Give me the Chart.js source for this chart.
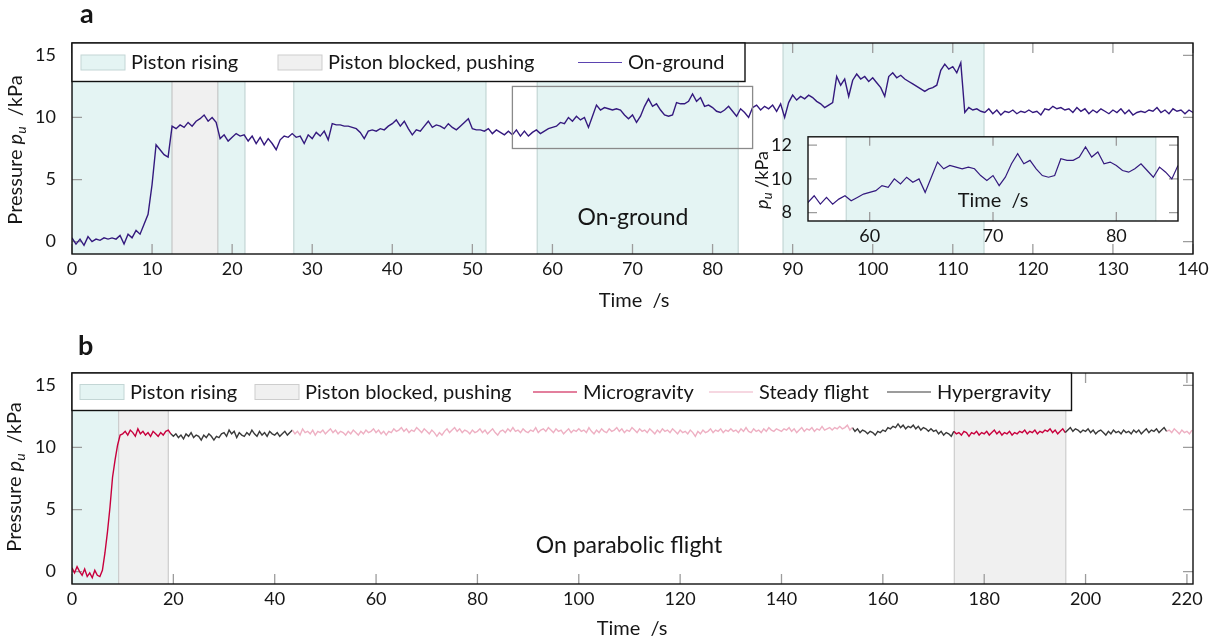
<!DOCTYPE html>
<html>
<head>
<meta charset="utf-8">
<script src="https://cdn.jsdelivr.net/npm/chart.js@4.4.1/dist/chart.umd.min.js"></script>
<style>
html, body { margin: 0; padding: 0; background: #fff; }
#wrap { position: relative; width: 1225px; height: 644px; overflow: hidden; }
canvas { position: absolute; }
</style>
</head>
<body>
<div id="wrap">
  <canvas id="chartA" width="1225" height="320" style="left:0;top:0"></canvas>
  <canvas id="chartB" width="1225" height="324" style="left:0;top:320px"></canvas>
  <canvas id="inset" width="450" height="132" style="left:740px;top:118px"></canvas>
</div>
<script>
// ---- panel a : on-ground, pressure sampled every 0.5 s from 0 to 140 s
var stepA = 0.5;
var pressureA = [
  0.3,-0.2,0.2,-0.3,0.4,0.0,0.2,0.1,0.3,0.2,
  0.3,0.2,0.5,-0.2,0.6,0.3,0.9,0.6,1.4,2.2,
  4.6,7.8,7.4,7.0,6.8,9.3,9.1,9.4,9.2,9.6,
  9.3,9.7,9.9,10.2,9.7,10.0,9.6,8.3,8.6,8.1,
  8.4,8.7,8.5,8.6,8.1,8.5,7.9,8.4,7.8,8.3,
  7.9,7.4,8.2,8.5,8.4,8.7,8.4,8.5,7.9,8.6,
  8.3,8.8,8.5,8.9,8.2,9.5,9.4,9.4,9.3,9.3,
  9.2,9.1,8.8,8.3,8.9,9.0,8.9,9.1,9.0,9.3,
  9.5,9.8,9.3,9.7,9.1,8.6,9.0,8.9,9.3,9.7,
  9.2,9.4,9.3,9.1,9.5,9.2,9.0,9.3,9.6,9.9,
  9.1,9.0,9.0,8.9,9.1,8.7,9.0,8.8,8.6,8.9,
  8.6,9.0,8.5,8.9,8.5,8.8,9.0,8.7,8.9,9.1,
  9.2,9.3,9.6,9.5,10.0,9.7,10.1,9.8,10.0,9.2,
  10.1,11.0,10.6,10.8,10.7,10.6,10.7,10.6,10.2,9.9,
  10.2,9.6,10.1,10.9,11.5,10.9,11.1,10.6,10.2,10.1,
  10.2,11.2,11.1,11.1,11.3,11.9,11.3,11.6,10.9,11.0,
  10.8,10.5,10.4,10.6,10.9,10.5,10.1,10.7,10.4,10.0,
  10.8,11.0,10.6,10.9,10.7,11.0,10.5,11.1,10.0,11.2,
  11.8,11.4,11.7,11.5,11.8,11.6,11.3,11.1,10.8,11.0,
  11.2,13.3,12.6,13.1,11.7,13.0,13.5,13.1,13.3,12.9,
  13.2,12.8,12.4,11.7,13.3,13.6,13.2,13.4,13.1,12.9,
  12.7,12.5,12.3,12.1,12.3,12.4,12.6,13.8,14.3,13.9,
  14.1,13.6,14.4,10.4,10.8,10.6,10.7,10.5,10.4,10.7,
  10.3,10.6,10.2,10.5,10.4,10.6,10.3,10.5,10.4,10.6,
  10.4,10.5,10.2,10.7,10.6,10.9,10.7,10.8,10.6,10.7,
  10.4,10.8,10.5,10.7,10.3,10.6,10.4,10.7,10.5,10.3,
  10.6,10.4,10.7,10.3,10.6,10.2,10.4,10.5,10.4,10.6,
  10.5,10.8,10.4,10.6,10.3,10.7,10.5,10.6,10.3,10.6,
  10.4
];
var risingA = [[0, 12.5], [18.2, 21.6], [27.7, 51.7], [58.1, 83.2], [88.8, 113.9]];
var blockedA = [[12.5, 18.2]];
var xTicksA = [0, 10, 20, 30, 40, 50, 60, 70, 80, 90, 100, 110, 120, 130, 140];
var yTicksA = [0, 5, 10, 15];
// zoomed window shown in the inset
var zoomX = [55, 85];
var zoomY = [7.5, 12.5];
var xTicksInset = [60, 70, 80];
var yTicksInset = [8, 10, 12];

// ---- panel b : parabolic flight, pressure sampled every 0.5 s from 0 to 221 s
var stepB = 0.5;
var pressureB = [
  0.3,-0.1,0.4,0.0,-0.3,0.2,-0.4,-0.1,-0.5,0.1,-0.3,-0.4,0.1,1.5,3.2,5.2,7.6,9.0,10.2,11.0,
  11.1,11.3,11.0,11.4,11.2,10.9,11.5,11.1,11.3,11.0,11.2,10.9,11.3,11.1,10.9,11.2,11.0,11.3,11.4,11.1,
  10.9,11.1,10.8,11.0,10.7,11.1,10.9,11.2,10.8,11.0,10.9,10.6,11.0,10.8,11.1,10.9,10.6,10.9,10.8,11.1,
  11.2,10.9,11.4,11.1,11.3,10.8,11.2,11.0,10.9,11.2,11.0,11.4,11.1,10.9,11.3,11.0,11.2,10.9,11.3,11.1,
  11.0,11.2,10.9,11.1,11.3,11.0,11.2,11.4,11.1,11.3,11.0,11.5,11.2,11.3,11.1,11.4,11.0,11.3,11.2,11.4,
  11.1,11.3,11.5,11.2,11.4,11.1,11.3,11.2,11.0,11.3,11.1,11.4,11.2,11.0,11.3,11.1,11.4,11.2,11.3,11.5,
  11.2,11.4,11.1,11.3,11.0,11.3,11.2,11.5,11.3,11.4,11.6,11.3,11.5,11.2,11.4,11.3,11.6,11.4,11.2,11.5,
  11.3,11.1,11.4,11.2,10.9,11.2,11.0,11.3,11.5,11.2,11.4,11.6,11.3,11.5,11.2,11.4,11.3,11.1,11.4,11.2,
  11.3,11.5,11.2,11.4,11.1,11.3,11.5,11.2,11.0,11.3,11.4,11.2,11.5,11.3,11.6,11.3,11.4,11.2,11.5,11.3,
  11.2,11.4,11.3,11.6,11.2,11.4,11.5,11.3,11.6,11.4,11.2,11.5,11.3,11.4,11.1,11.3,11.5,11.2,11.4,11.3,
  11.5,11.3,11.4,11.2,11.6,11.3,11.1,11.4,11.2,11.5,11.3,11.2,11.5,11.3,11.4,11.6,11.3,11.5,11.2,11.4,
  11.3,11.6,11.4,11.2,11.5,11.3,11.4,11.2,11.5,11.3,11.1,11.4,11.2,11.5,11.3,11.4,11.2,11.5,11.3,11.1,
  11.4,11.2,11.3,11.1,11.4,11.2,10.9,11.3,11.1,11.4,11.2,11.3,11.5,11.2,11.4,11.3,11.5,11.2,11.4,11.3,
  11.5,11.3,11.4,11.2,11.5,11.3,11.6,11.3,11.2,11.5,11.3,11.4,11.2,11.5,11.3,11.6,11.4,11.3,11.5,11.4,
  11.3,11.5,11.4,11.6,11.3,11.5,11.2,11.4,11.6,11.3,11.5,11.4,11.6,11.3,11.5,11.4,11.7,11.4,11.5,11.6,
  11.4,11.6,11.5,11.7,11.5,11.6,11.8,11.4,11.6,11.3,11.5,11.2,11.4,11.3,11.1,11.3,11.2,11.0,11.3,11.2,
  11.4,11.3,11.6,11.5,11.7,11.6,11.9,11.6,11.8,11.5,11.7,11.6,11.8,11.5,11.7,11.4,11.6,11.5,11.3,11.5,
  11.3,11.4,11.1,11.3,11.0,11.2,11.1,10.9,11.3,11.1,11.2,11.0,11.3,11.2,10.9,11.2,11.1,11.3,11.0,11.2,
  11.1,11.3,11.0,11.2,11.4,11.1,11.3,11.0,11.2,11.1,11.3,11.0,11.2,11.1,11.3,11.2,11.4,11.1,11.3,11.2,
  11.4,11.1,11.3,11.2,11.4,11.3,11.5,11.2,11.4,11.1,11.3,11.5,11.2,11.4,11.6,11.3,11.5,11.4,11.2,11.4,
  11.3,11.5,11.2,11.4,11.1,11.3,11.4,11.2,11.0,11.3,11.1,11.4,11.2,11.3,11.1,11.4,11.2,11.3,11.1,11.4,
  11.2,11.4,11.1,11.3,11.5,11.2,11.4,11.3,11.5,11.2,11.4,11.6,11.3,11.4,11.2,11.5,11.3,11.1,11.4,11.2,
  11.3,11.1,11.4
];
var microB = [[0, 19.5], [174, 196]];
var steadyB = [[43.5, 154], [216, 221.2]];
var hyperB = [[19.5, 43.5], [154, 174], [196, 216]];
var risingB = [[0, 9.2]];
var blockedB = [[9.2, 19.0], [174.1, 196.1]];
var xTicksB = [0, 20, 40, 60, 80, 100, 120, 140, 160, 180, 200, 220];
var yTicksB = [0, 5, 10, 15];

var FONT = 'Lato, "Open Sans", "DejaVu Sans", sans-serif';
var INK = '#161616';
var LINE_A = '#34197e';
var TEAL = '#e4f4f3', TEAL_EDGE = '#c3d6d5';
var GREY = '#f0f0f0', GREY_EDGE = '#cdcdcd';
var MICRO = '#c8003d', STEADY = '#eeb0c3', HYPER = '#3a3a3a';
var LABEL = 20;

function toPoints(values, step, spans) {
  return values.map(function (v, i) {
    var t = i * step;
    var inside = !spans || spans.some(function (s) { return t >= s[0] && t <= s[1]; });
    return { x: t, y: inside ? v : null };
  });
}

function shade(chart, spans, fill, edge) {
  var ctx = chart.ctx, a = chart.chartArea, xs = chart.scales.x;
  ctx.save();
  ctx.beginPath(); ctx.rect(a.left, a.top, a.right - a.left, a.bottom - a.top); ctx.clip();
  spans.forEach(function (s) {
    var x0 = xs.getPixelForValue(s[0]), x1 = xs.getPixelForValue(s[1]);
    ctx.fillStyle = fill;
    ctx.fillRect(x0, a.top, x1 - x0, a.bottom - a.top);
    ctx.strokeStyle = edge; ctx.lineWidth = 1.2;
    ctx.beginPath();
    ctx.moveTo(x0, a.top); ctx.lineTo(x0, a.bottom);
    ctx.moveTo(x1, a.top); ctx.lineTo(x1, a.bottom);
    ctx.stroke();
  });
  ctx.restore();
}

function innerTicks(chart, xt, yt, len) {
  var ctx = chart.ctx, a = chart.chartArea, xs = chart.scales.x, ys = chart.scales.y;
  ctx.save();
  ctx.strokeStyle = '#9c9c9c'; ctx.lineWidth = 1.3;
  ctx.beginPath();
  xt.forEach(function (v) {
    var x = xs.getPixelForValue(v);
    ctx.moveTo(x, a.bottom); ctx.lineTo(x, a.bottom - len);
    ctx.moveTo(x, a.top); ctx.lineTo(x, a.top + len);
  });
  yt.forEach(function (v) {
    var y = ys.getPixelForValue(v);
    ctx.moveTo(a.left, y); ctx.lineTo(a.left + len, y);
    ctx.moveTo(a.right, y); ctx.lineTo(a.right - len, y);
  });
  ctx.stroke();
  ctx.restore();
}

function frame(chart) {
  var ctx = chart.ctx, a = chart.chartArea;
  ctx.save();
  ctx.strokeStyle = '#111'; ctx.lineWidth = 1.4;
  ctx.strokeRect(a.left, a.top, a.right - a.left, a.bottom - a.top);
  ctx.restore();
}

function text(ctx, str, x, y, size, align, weight) {
  ctx.save();
  ctx.font = (weight || '') + ' ' + size + 'px ' + FONT;
  ctx.fillStyle = INK; ctx.textAlign = align || 'center'; ctx.textBaseline = 'alphabetic';
  ctx.fillText(str, x, y);
  ctx.restore();
}

// rotated "Pressure p_u /kPa" title, x = baseline position
function pressureTitle(ctx, x, y, size, word, gap) {
  var segs = [];
  if (word) segs.push({ t: 'Pressure ', f: size + 'px ' + FONT, dy: 0 });
  segs.push({ t: 'p', f: 'italic ' + size + 'px ' + FONT, dy: 0 });
  segs.push({ t: 'u', f: 'italic ' + Math.round(size * 0.72) + 'px ' + FONT, dy: size * 0.2 });
  segs.push({ t: gap + '/kPa', f: size + 'px ' + FONT, dy: 0 });
  ctx.save();
  ctx.translate(x, y); ctx.rotate(-Math.PI / 2);
  ctx.fillStyle = INK; ctx.textBaseline = 'alphabetic'; ctx.textAlign = 'left';
  var w = 0;
  segs.forEach(function (s) { ctx.font = s.f; s.w = ctx.measureText(s.t).width; w += s.w; });
  var cx = -w / 2;
  segs.forEach(function (s) { ctx.font = s.f; ctx.fillText(s.t, cx, s.dy); cx += s.w; });
  ctx.restore();
}

function legend(ctx, box, midY, base, items) {
  ctx.save();
  ctx.fillStyle = '#fff';
  ctx.fillRect(box[0], box[1], box[2] - box[0], box[3] - box[1]);
  ctx.strokeStyle = '#111'; ctx.lineWidth = 1.4;
  ctx.strokeRect(box[0], box[1], box[2] - box[0], box[3] - box[1]);
  items.forEach(function (it) {
    if (it.patch) {
      ctx.fillStyle = it.patch; ctx.fillRect(it.x, midY - 7.5, 44, 15);
      ctx.strokeStyle = it.edge; ctx.lineWidth = 1; ctx.strokeRect(it.x, midY - 7.5, 44, 15);
    } else {
      ctx.strokeStyle = it.line; ctx.lineWidth = 1.2;
      ctx.beginPath(); ctx.moveTo(it.x, midY); ctx.lineTo(it.x + 44, midY); ctx.stroke();
    }
    text(ctx, it.label, it.x + 50, base, LABEL, 'left');
  });
  ctx.restore();
}

function axisX(min, max, ticks, height) {
  return {
    type: 'linear', min: min, max: max,
    grid: { display: false }, border: { display: false },
    ticks: { font: { family: FONT, size: 18 }, color: INK, padding: -4, maxRotation: 0, autoSkip: false },
    afterBuildTicks: function (s) { s.ticks = ticks.map(function (v) { return { value: v }; }); },
    afterFit: function (s) { s.height = height; }
  };
}
function axisY(min, max, ticks, width) {
  return {
    min: min, max: max,
    grid: { display: false }, border: { display: false },
    ticks: { font: { family: FONT, size: 18 }, color: INK, padding: 8 },
    afterBuildTicks: function (s) { s.ticks = ticks.map(function (v) { return { value: v }; }); },
    afterFit: function (s) { s.width = width; }
  };
}
var common = {
  responsive: false, animation: false, events: [],
  plugins: { legend: { display: false }, tooltip: { enabled: false } },
  elements: { point: { radius: 0 }, line: { tension: 0 } }
};

var chartA = new Chart(document.getElementById('chartA'), {
  type: 'line',
  data: { datasets: [{ label: 'On-ground', data: toPoints(pressureA, stepA), borderColor: LINE_A, borderWidth: 1.4 }] },
  options: Object.assign({}, common, {
    layout: { padding: { top: 43, right: 32, left: 0, bottom: 0 } },
    scales: { x: axisX(0, 140, xTicksA, 66), y: axisY(-1, 16, yTicksA, 72) }
  }),
  plugins: [{
    id: 'decoA',
    beforeDatasetsDraw: function (chart) {
      shade(chart, risingA, TEAL, TEAL_EDGE);
      shade(chart, blockedA, GREY, GREY_EDGE);
      innerTicks(chart, xTicksA, yTicksA, 10);
    },
    afterDatasetsDraw: function (chart) {
      var ctx = chart.ctx, xs = chart.scales.x, ys = chart.scales.y;
      ctx.save();
      ctx.strokeStyle = '#8a8a8a'; ctx.lineWidth = 1.3;
      var x0 = xs.getPixelForValue(zoomX[0]), x1 = xs.getPixelForValue(zoomX[1]);
      var y0 = ys.getPixelForValue(zoomY[1]), y1 = ys.getPixelForValue(zoomY[0]);
      ctx.strokeRect(x0, y0, x1 - x0, y1 - y0);
      ctx.restore();
      frame(chart);
      legend(ctx, [72, 43, 745, 81.5], 62.5, 69, [
        { patch: TEAL, edge: TEAL_EDGE, x: 81, label: 'Piston rising' },
        { patch: GREY, edge: GREY_EDGE, x: 278, label: 'Piston blocked, pushing' },
        { line: '#5b43b0', x: 578, label: 'On-ground' }
      ]);
      text(ctx, 'On-ground', 633, 225, 23);
      text(ctx, 'a', 80, 23, 27, 'left', 'bold');
      text(ctx, 'Time  /s', 634, 307, LABEL);
      pressureTitle(ctx, 22, 150, LABEL, true, '  ');
    }
  }]
});

var inset = new Chart(document.getElementById('inset'), {
  type: 'line',
  data: { datasets: [{ data: toPoints(pressureA, stepA), borderColor: LINE_A, borderWidth: 1.2 }] },
  options: Object.assign({}, common, {
    layout: { padding: { top: 11, right: 12, left: 0, bottom: 0 } },
    scales: { x: axisX(zoomX[0], zoomX[1], xTicksInset, 29), y: axisY(zoomY[0], zoomY[1], yTicksInset, 68) }
  }),
  plugins: [{
    id: 'decoInset',
    beforeDatasetsDraw: function (chart) {
      var a = chart.chartArea;
      chart.ctx.fillStyle = '#fff';
      chart.ctx.fillRect(a.left, a.top, a.right - a.left, a.bottom - a.top);
      shade(chart, risingA, TEAL, TEAL_EDGE);
      innerTicks(chart, xTicksInset, yTicksInset, 9);
    },
    afterDatasetsDraw: function (chart) {
      frame(chart);
      text(chart.ctx, 'Time  /s', 253, 89, LABEL);
      pressureTitle(chart.ctx, 28, 62, 18, false, ' ');
    }
  }]
});

var chartB = new Chart(document.getElementById('chartB'), {
  type: 'line',
  data: { datasets: [
    { label: 'Steady flight', data: toPoints(pressureB, stepB, steadyB), borderColor: STEADY, borderWidth: 1.4 },
    { label: 'Hypergravity', data: toPoints(pressureB, stepB, hyperB), borderColor: HYPER, borderWidth: 1.4 },
    { label: 'Microgravity', data: toPoints(pressureB, stepB, microB), borderColor: MICRO, borderWidth: 1.4 }
  ] },
  options: Object.assign({}, common, {
    layout: { padding: { top: 53, right: 32, left: 0, bottom: 0 } },
    scales: { x: axisX(0, 221.2, xTicksB, 60), y: axisY(-1, 16, yTicksB, 72) }
  }),
  plugins: [{
    id: 'decoB',
    beforeDatasetsDraw: function (chart) {
      shade(chart, risingB, TEAL, TEAL_EDGE);
      shade(chart, blockedB, GREY, GREY_EDGE);
      innerTicks(chart, xTicksB, yTicksB, 10);
    },
    afterDatasetsDraw: function (chart) {
      var ctx = chart.ctx;
      frame(chart);
      legend(ctx, [72, 53, 1071.5, 90.5], 72, 79, [
        { patch: TEAL, edge: TEAL_EDGE, x: 80, label: 'Piston rising' },
        { patch: GREY, edge: GREY_EDGE, x: 255, label: 'Piston blocked, pushing' },
        { line: MICRO, x: 533, label: 'Microgravity' },
        { line: STEADY, x: 709, label: 'Steady flight' },
        { line: HYPER, x: 887, label: 'Hypergravity' }
      ]);
      text(ctx, 'On parabolic flight', 629, 233, 23);
      text(ctx, 'b', 78, 35, 27, 'left', 'bold');
      text(ctx, 'Time  /s', 632, 315, LABEL);
      pressureTitle(ctx, 21, 157, LABEL, true, '  ');
    }
  }]
});
</script>
</body>
</html>
